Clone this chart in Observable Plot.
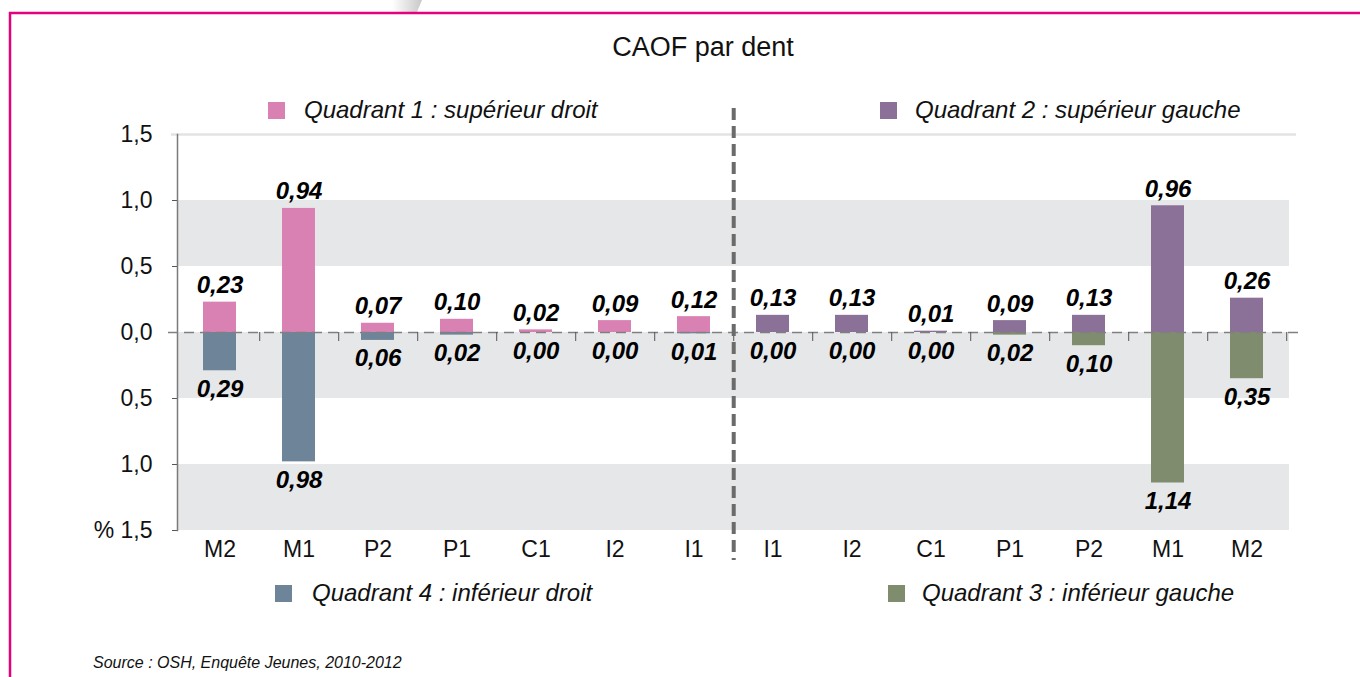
<!DOCTYPE html>
<html>
<head>
<meta charset="utf-8">
<script src="https://cdn.jsdelivr.net/npm/d3@7"></script>
<script src="https://cdn.jsdelivr.net/npm/@observablehq/plot@0.6"></script>
<style>
  html, body { margin: 0; padding: 0; background: #fff; }
  svg { display: block; }
</style>
</head>
<body>
<div id="chart"></div>
<script>
// ---- data ----
const teethDroit = ["M2", "M1", "P2", "P1", "C1", "I2", "I1"];
const teethGauche = ["I1", "I2", "C1", "P1", "P2", "M1", "M2"];
const q1Values = [0.23, 0.94, 0.07, 0.10, 0.02, 0.09, 0.12]; // supérieur droit
const q4Values = [0.29, 0.98, 0.06, 0.02, 0.00, 0.00, 0.01]; // inférieur droit
const q2Values = [0.13, 0.13, 0.01, 0.09, 0.13, 0.96, 0.26]; // supérieur gauche
const q3Values = [0.00, 0.00, 0.00, 0.02, 0.10, 1.14, 0.35]; // inférieur gauche
const yTicks = [-1.5, -1, -0.5, 0, 0.5, 1, 1.5];
const stripes = [[0.5, 1], [-0.5, 0], [-1.5, -1]];
const legendLabels = [
  "Quadrant 1 : supérieur droit",
  "Quadrant 2 : supérieur gauche",
  "Quadrant 4 : inférieur droit",
  "Quadrant 3 : inférieur gauche"
];
const colors = {q1: "#D981B3", q2: "#8B7097", q3: "#7F8C6D", q4: "#6E8599"};

// ---- build rows ----
const keysD = teethDroit.map(t => "D:" + t);
const keysG = teethGauche.map(t => "G:" + t);
const keys = [...keysD, ...keysG];
const up = [
  ...keysD.map((k, i) => ({key: k, v: q1Values[i], q: "q1"})),
  ...keysG.map((k, i) => ({key: k, v: q2Values[i], q: "q2"}))
];
const down = [
  ...keysD.map((k, i) => ({key: k, v: q4Values[i], q: "q4"})),
  ...keysG.map((k, i) => ({key: k, v: q3Values[i], q: "q3"}))
];
const fmt = v => v.toFixed(2).replace(".", ",");
const fmtY = t => (t === -1.5 ? "% " : "") + Math.abs(t).toFixed(1).replace(".", ",");

const W = 1360, H = 677, ML = 177, MR = 71, MT = 134, MB = 147;
const step = (W - ML - MR) / keys.length;
const font = '"Liberation Sans", Arial, Helvetica, sans-serif';
const valueStyle = {fontSize: 24, fontWeight: "bold", fontStyle: "italic", fill: "#000"};

const plot = Plot.plot({
  width: W, height: H,
  marginLeft: ML, marginRight: MR, marginTop: MT, marginBottom: MB,
  style: {fontFamily: font, fontSize: "23px", color: "#111", background: "#fff"},
  x: {domain: keys, paddingInner: 0.585, paddingOuter: 0.2925, label: null},
  y: {domain: [-1.5, 1.5], label: null},
  marks: [
    Plot.rect(stripes, {y1: d => d[0], y2: d => d[1], fill: "#E6E7E9"}),
    Plot.axisY({ticks: yTicks, tickSize: 5, tickPadding: 20, tickFormat: fmtY, stroke: "#555"}),
    Plot.ruleY([1.5], {stroke: "#E3E3E3", strokeWidth: 2.5, insetLeft: -6, insetRight: -7}),
    Plot.frame({anchor: "left", stroke: "#7a7a7a", strokeWidth: 1.5}),
    Plot.axisX({tickSize: 0, tickPadding: 10, tickFormat: k => k.split(":")[1]}),
    Plot.barY(up, {x: "key", y1: () => 0, y2: "v", fill: d => colors[d.q]}),
    Plot.barY(down, {x: "key", y1: () => 0, y2: d => -d.v, fill: d => colors[d.q]}),
    Plot.ruleY([0], {stroke: "#808080", strokeWidth: 1.5, strokeDasharray: "10,6", insetLeft: -9, insetRight: -9}),
    Plot.ruleX(keys, {x: d => d, dx: step / 2, y1: () => 0, y2: () => 0, insetBottom: -9, stroke: "#555", strokeWidth: 1}),
    Plot.ruleX(["D:I1"], {x: d => d, dx: step / 2, y1: () => 0, y2: () => 0, insetTop: -224, insetBottom: -228,
      stroke: "#6b6b6b", strokeWidth: 4, strokeDasharray: "12,6"}),
    Plot.text(up, {x: "key", y: "v", text: d => fmt(d.v), lineAnchor: "bottom", dy: -9, ...valueStyle}),
    Plot.text(down, {x: "key", y: d => -d.v, text: d => fmt(d.v), lineAnchor: "top", dy: 9, ...valueStyle})
  ]
});

const svg = d3.select(plot);
svg.attr("font-family", font);

// decorative frame
const defs = svg.append("defs");
const grad = defs.append("linearGradient").attr("id", "gshade").attr("x1", "0").attr("x2", "1");
grad.append("stop").attr("offset", "0").attr("stop-color", "#fff");
grad.append("stop").attr("offset", "1").attr("stop-color", "#c8c8c8");
svg.append("polygon").attr("points", "392,0 422,0 417,12 392,12").attr("fill", "url(#gshade)");
svg.append("line").attr("x1", 9).attr("x2", W).attr("y1", 13).attr("y2", 13)
  .attr("stroke", "#E5007D").attr("stroke-width", 2.5);
svg.append("line").attr("x1", 10).attr("x2", 10).attr("y1", 12).attr("y2", H)
  .attr("stroke", "#E5007D").attr("stroke-width", 2.5);

// title
svg.append("text").attr("x", 703).attr("y", 56).attr("text-anchor", "middle")
  .attr("font-size", 27).attr("fill", "#111").text("CAOF par dent");

// legends
const legendPos = [
  {sx: 268, sy: 102, tx: 304, ty: 118, c: colors.q1},
  {sx: 880, sy: 102, tx: 915, ty: 118, c: colors.q2},
  {sx: 275, sy: 585, tx: 312, ty: 601, c: colors.q4},
  {sx: 888, sy: 585, tx: 922, ty: 601, c: colors.q3}
];
legendLabels.forEach((lab, i) => {
  const p = legendPos[i];
  svg.append("rect").attr("x", p.sx).attr("y", p.sy).attr("width", 17).attr("height", 17).attr("fill", p.c);
  svg.append("text").attr("x", p.tx).attr("y", p.ty).attr("text-anchor", "start")
    .attr("font-size", 24).attr("font-style", "italic").attr("fill", "#111").text(lab);
});

// source
svg.append("text").attr("x", 93).attr("y", 668).attr("text-anchor", "start")
  .attr("font-size", 16).attr("font-style", "italic").attr("fill", "#111")
  .text("Source : OSH, Enquête Jeunes, 2010-2012");

document.getElementById("chart").appendChild(plot);
</script>
</body>
</html>
